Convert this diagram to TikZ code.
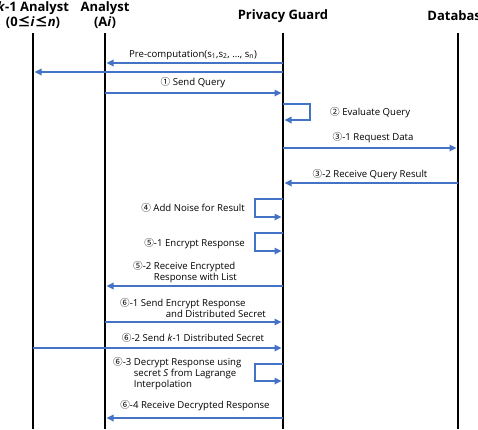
\documentclass[tikz,border=0pt]{standalone}
\usepackage{fontspec}
\setmainfont{Open Sans}
\newfontfamily\symfont{Noto Sans CJK KR}
\usetikzlibrary{arrows.meta, positioning}
\definecolor{msgblue}{RGB}{68, 114, 196}
\newcommand{\cnum}[1]{{\symfont #1}}

\begin{document}
\begin{tikzpicture}[x=1pt, y=-1pt,
  lifeline/.style={line width=2.2pt, black},
  msg/.style={draw=msgblue, line width=1.6pt, shorten >=1.5pt, -{Triangle[length=7pt, width=6.5pt]}},
  head/.style={font=\fontsize{13}{15}\selectfont\bfseries, align=center, inner sep=0pt},
  lbl/.style={font=\fontsize{9.6}{11}\selectfont, inner sep=0pt}]

  \useasboundingbox (0,0) rectangle (478,429);

  % Participants
  \node[head] (khead) at (33,15.5) {\textit{k}-1 Analyst\\(0{\symfont ≤}\textit{i}{\symfont ≤}\textit{n})};
  \node[head] (ahead) at (105,15.5) {Analyst\\(A\textit{i})};
  \node[head] (phead) at (283,16) {Privacy Guard};
  \node[head] (dhead) at (458,16) {Database};

  % Lifelines
  \coordinate (kline) at (33,33);
  \coordinate (aline) at (105,33);
  \coordinate (pline) at (283,33);
  \coordinate (dline) at (458,33);
  \draw[lifeline] (kline) -- (kline |- 0,429);
  \draw[lifeline] (aline) -- (aline |- 0,429);
  \draw[lifeline] (pline) -- (pline |- 0,429);
  \draw[lifeline] (dline) -- (dline |- 0,429);

  % Pre-computation
  \node[lbl] (precomp) at (193,55) {Pre-computation(s\textsubscript{1},s\textsubscript{2}, ..., s\textsubscript{n})};
  \draw[msg] (pline |- 0,63) -- (aline |- 0,63);
  \draw[msg] (pline |- 0,72) -- (kline |- 0,72);

  % Step 1 and 2
  \node[lbl] (sendq) at (193,83) {\cnum{①} Send Query};
  \draw[msg] (aline |- 0,93) -- (pline |- 0,93);
  \node[lbl, anchor=west] (evalq) at (330,113) {\cnum{②} Evaluate Query};
  \draw[msg] (pline |- 0,104) -- ++(27,0) |- (pline |- 0,120);

  % Step 3
  \node[lbl] (reqdata) at (373,138) {\cnum{③}-1 Request Data};
  \draw[msg] (pline |- 0,148) -- (dline |- 0,148);
  \node[lbl] (recvres) at (370,175) {\cnum{③}-2 Receive Query Result};
  \draw[msg] (dline |- 0,183) -- (pline |- 0,183);

  % Step 4 and 5
  \node[lbl, anchor=east] (noise) at (245,208) {\cnum{④} Add Noise for Result};
  \draw[msg] (pline |- 0,199) -- ++(-28,0) |- (pline |- 0,217);
  \node[lbl, anchor=east] (encr) at (245,244) {\cnum{⑤}-1 Encrypt Response};
  \draw[msg] (pline |- 0,233) -- ++(-28,0) |- (pline |- 0,251);
  \node[lbl, anchor=west, align=left] (recvenc) at (133,272.5) {\cnum{⑤}-2 Receive Encrypted\\\phantom{\cnum{⑤}-2 }Response with List};
  \draw[msg] (pline |- 0,286) -- (aline |- 0,286);

  % Step 6
  \node[lbl, anchor=west, align=left] (sendenc) at (120,308.5) {\cnum{⑥}-1 Send Encrypt Response\\\phantom{\cnum{⑥}-1 Send }and Distributed Secret};
  \draw[msg] (aline |- 0,322) -- (pline |- 0,322);
  \node[lbl] (sendsec) at (193,338) {\cnum{⑥}-2 Send \textit{k}-1 Distributed Secret};
  \draw[msg] (kline |- 0,348) -- (pline |- 0,348);
  \node[lbl, anchor=west, align=left] (decr) at (113,374) {\cnum{⑥}-3 Decrypt Response using\\\phantom{\cnum{⑥}-3 }secret \textit{S} from Lagrange\\\phantom{\cnum{⑥}-3 }Interpolation};
  \draw[msg] (pline |- 0,364) -- ++(-28,0) |- (pline |- 0,381);
  \node[lbl] (recvdec) at (195,406) {\cnum{⑥}-4 Receive Decrypted Response};
  \draw[msg] (pline |- 0,418) -- (aline |- 0,418);
\end{tikzpicture}
\end{document}
